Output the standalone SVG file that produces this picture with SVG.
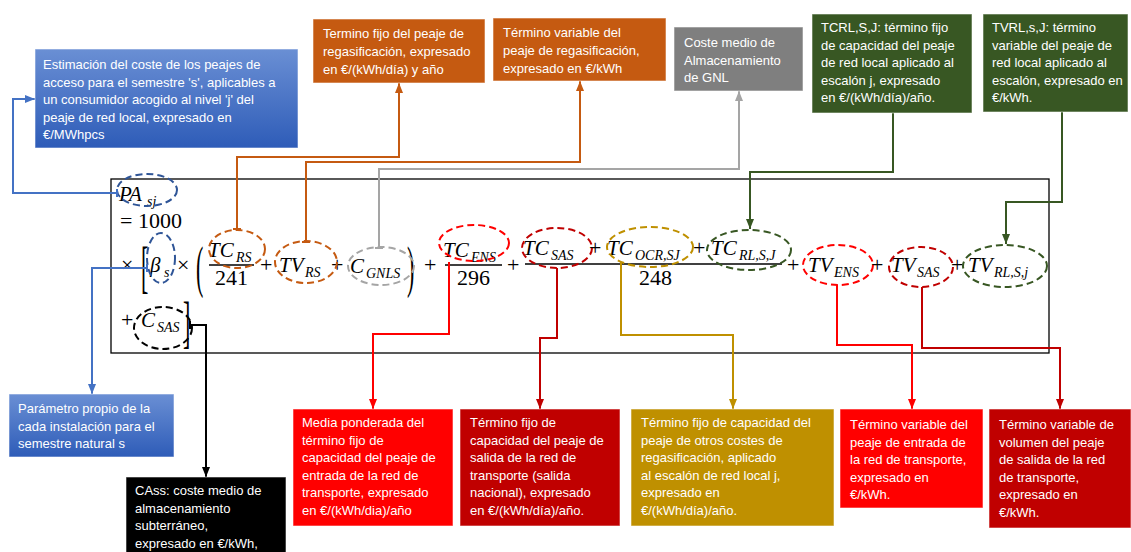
<svg xmlns="http://www.w3.org/2000/svg" width="1131" height="552" viewBox="0 0 1131 552">
<style>
.t{font-family:"Liberation Sans",Arial,sans-serif;font-size:13px;fill:#fff}
.box{stroke:#fff;stroke-opacity:0.55;stroke-width:1}
.m{font-family:"Liberation Serif","Times New Roman",serif;font-style:italic;font-size:21px;fill:#000}
.s{font-family:"Liberation Serif","Times New Roman",serif;font-style:italic;font-size:14px;fill:#000}
.n{font-family:"Liberation Serif","Times New Roman",serif;font-size:22px;fill:#000}
.e{fill:none;stroke-width:2;stroke-dasharray:7 4}
.c{fill:none;stroke-width:2}
</style>
<defs>
<linearGradient id="gb" x1="0" y1="0" x2="0" y2="1">
<stop offset="0" stop-color="#6A8FD4"/>
<stop offset="1" stop-color="#2E5CB8"/>
</linearGradient>
<marker id="aBlue" markerUnits="userSpaceOnUse" markerWidth="10" markerHeight="10" viewBox="0 0 10 10" refX="10" refY="5" orient="auto"><path d="M0,1 L10,5 L0,9 z" fill="#4472C4"/></marker>
<marker id="aOr" markerUnits="userSpaceOnUse" markerWidth="10" markerHeight="10" viewBox="0 0 10 10" refX="10" refY="5" orient="auto"><path d="M0,1 L10,5 L0,9 z" fill="#C55A11"/></marker>
<marker id="aGr" markerUnits="userSpaceOnUse" markerWidth="10" markerHeight="10" viewBox="0 0 10 10" refX="10" refY="5" orient="auto"><path d="M0,1 L10,5 L0,9 z" fill="#A5A5A5"/></marker>
<marker id="aGn" markerUnits="userSpaceOnUse" markerWidth="10" markerHeight="10" viewBox="0 0 10 10" refX="10" refY="5" orient="auto"><path d="M0,1 L10,5 L0,9 z" fill="#385723"/></marker>
<marker id="aRd" markerUnits="userSpaceOnUse" markerWidth="10" markerHeight="10" viewBox="0 0 10 10" refX="10" refY="5" orient="auto"><path d="M0,1 L10,5 L0,9 z" fill="#FF0000"/></marker>
<marker id="aDr" markerUnits="userSpaceOnUse" markerWidth="10" markerHeight="10" viewBox="0 0 10 10" refX="10" refY="5" orient="auto"><path d="M0,1 L10,5 L0,9 z" fill="#C00000"/></marker>
<marker id="aGd" markerUnits="userSpaceOnUse" markerWidth="10" markerHeight="10" viewBox="0 0 10 10" refX="10" refY="5" orient="auto"><path d="M0,1 L10,5 L0,9 z" fill="#BF9000"/></marker>
<marker id="aBk" markerUnits="userSpaceOnUse" markerWidth="10" markerHeight="10" viewBox="0 0 10 10" refX="10" refY="5" orient="auto"><path d="M0,1 L10,5 L0,9 z" fill="#000"/></marker>
<marker id="tBlue" markerUnits="userSpaceOnUse" markerWidth="4" markerHeight="10" viewBox="0 0 4 10" refX="2" refY="5" orient="auto"><rect x="1" y="1" width="2" height="8" fill="#4472C4"/></marker>
<marker id="tOr" markerUnits="userSpaceOnUse" markerWidth="4" markerHeight="10" viewBox="0 0 4 10" refX="2" refY="5" orient="auto"><rect x="1" y="1" width="2" height="8" fill="#C55A11"/></marker>
<marker id="tGr" markerUnits="userSpaceOnUse" markerWidth="4" markerHeight="10" viewBox="0 0 4 10" refX="2" refY="5" orient="auto"><rect x="1" y="1" width="2" height="8" fill="#A5A5A5"/></marker>
<marker id="tBk" markerUnits="userSpaceOnUse" markerWidth="4" markerHeight="10" viewBox="0 0 4 10" refX="2" refY="5" orient="auto"><rect x="1" y="1" width="2" height="8" fill="#000"/></marker>
</defs>
<rect width="1131" height="552" fill="#fff"/>

<g id="formula">
<rect x="111" y="179" width="938" height="174" fill="none" stroke="#000" stroke-width="1.3"/>
<text class="m" x="119" y="201">PA</text><text class="s" x="147" y="206">sj</text>
<text class="n" x="120" y="228">= 1000</text>
<text class="n" x="121" y="272">×</text>
<text class="n" transform="translate(141,286) scale(1,2.6)">[</text>
<text class="m" x="150" y="272">β</text><text class="s" x="164" y="277">s</text>
<text class="n" x="177" y="272">×</text>
<text class="n" transform="translate(196,286) scale(1,2.6)">(</text>
<text class="m" x="208" y="257">TC</text><text class="s" x="236" y="262">RS</text>
<line x1="209" y1="265" x2="254" y2="265" stroke="#000" stroke-width="1.3"/>
<text class="n" x="215" y="285">241</text>
<text class="n" x="260" y="272">+</text>
<text class="m" x="279" y="272">TV</text><text class="s" x="305" y="277">RS</text>
<text class="n" x="331" y="272">+</text>
<text class="m" x="350" y="273">C</text><text class="s" x="366" y="278">GNLS</text>
<text class="n" transform="translate(407,286) scale(1,2.6)">)</text>
<text class="n" x="424" y="272">+</text>
<text class="m" x="443" y="257">TC</text><text class="s" x="471" y="262">ENS</text>
<line x1="445" y1="265" x2="502" y2="265" stroke="#000" stroke-width="1.3"/>
<text class="n" x="457" y="285">296</text>
<text class="n" x="507" y="272">+</text>
<text class="m" x="523" y="255">TC</text><text class="s" x="551" y="260">SAS</text>
<text class="n" x="589" y="255">+</text>
<text class="m" x="607" y="255">TC</text><text class="s" x="635" y="260">OCR,SJ</text>
<text class="n" x="693" y="255">+</text>
<text class="m" x="711" y="255">TC</text><text class="s" x="739" y="260">RL,S,J</text>
<line x1="525" y1="264" x2="782" y2="264" stroke="#000" stroke-width="1.3"/>
<text class="n" x="639" y="285">248</text>
<text class="n" x="787" y="272">+</text>
<text class="m" x="808" y="272">TV</text><text class="s" x="834" y="277">ENS</text>
<text class="n" x="871" y="272">+</text>
<text class="m" x="891" y="272">TV</text><text class="s" x="917" y="277">SAS</text>
<text class="n" x="951" y="272">+</text>
<text class="m" x="968" y="272">TV</text><text class="s" x="994" y="277">RL,S,j</text>
<text class="n" x="121" y="327">+</text>
<text class="m" x="141" y="327">C</text><text class="s" x="157" y="332">SAS</text>
<text class="n" transform="translate(183,341) scale(1,2.6)">]</text>
<ellipse class="e" cx="147" cy="190" rx="30" ry="16" stroke="#2F5597"/>
<ellipse class="e" cx="161" cy="258" rx="14" ry="25" stroke="#2F5597"/>
<ellipse class="e" cx="237" cy="249" rx="28" ry="19" stroke="#C55A11"/>
<ellipse class="e" cx="306" cy="262" rx="31" ry="21" stroke="#C55A11"/>
<ellipse class="e" cx="381" cy="266" rx="33" ry="19" stroke="#A5A5A5"/>
<ellipse class="e" cx="474" cy="243" rx="35" ry="18" stroke="#FF0000"/>
<ellipse class="e" cx="557" cy="248" rx="35" ry="20" stroke="#C00000"/>
<ellipse class="e" cx="650" cy="247" rx="43" ry="20" stroke="#BF9000"/>
<ellipse class="e" cx="749" cy="250" rx="42" ry="20" stroke="#385723"/>
<ellipse class="e" cx="838" cy="265" rx="35" ry="20" stroke="#FF0000"/>
<ellipse class="e" cx="921" cy="267" rx="32" ry="20" stroke="#C00000"/>
<ellipse class="e" cx="1005" cy="266" rx="42" ry="21" stroke="#385723"/>
<ellipse class="e" cx="163" cy="328" rx="29" ry="21" stroke="#000"/>
</g>

<g id="connectors">
<path class="c" d="M117,193 H13 V99 H35" stroke="#4472C4" marker-start="url(#tBlue)" marker-end="url(#aBlue)"/>
<path class="c" d="M147,268 H92 V394" stroke="#4472C4" marker-start="url(#tBlue)" marker-end="url(#aBlue)"/>
<path class="c" d="M237,229 V157 H399 V83" stroke="#C55A11" marker-start="url(#tOr)" marker-end="url(#aOr)"/>
<path class="c" d="M306,242 V162 H580 V81" stroke="#C55A11" marker-start="url(#tOr)" marker-end="url(#aOr)"/>
<path class="c" d="M379,248 V169 H739 V91" stroke="#A5A5A5" marker-start="url(#tGr)" marker-end="url(#aGr)"/>
<path class="c" d="M893,113 V172 H750 V229" stroke="#385723" marker-end="url(#aGn)"/>
<path class="c" d="M1062,112 V202 H1006 V244" stroke="#385723" marker-end="url(#aGn)"/>
<path class="c" d="M190,325 H206 V477" stroke="#000" marker-start="url(#tBk)" marker-end="url(#aBk)"/>
<path class="c" d="M449,262 V334 H373 V409" stroke="#FF0000" marker-end="url(#aRd)"/>
<path class="c" d="M557,268 V338 H540 V409" stroke="#C00000" marker-end="url(#aDr)"/>
<path class="c" d="M621,262 V335 H733 V409" stroke="#BF9000" marker-end="url(#aGd)"/>
<path class="c" d="M837,285 V345 H912 V409" stroke="#FF0000" marker-end="url(#aRd)"/>
<path class="c" d="M922,287 V348 H1060 V409" stroke="#C00000" marker-end="url(#aDr)"/>
</g>

<g id="n-pa">
<rect class="box" x="35" y="49" width="263" height="99" fill="url(#gb)"/>
<text class="t"><tspan x="43" y="69">Estimación del coste de los peajes de</tspan><tspan x="43" y="86.5">acceso para el semestre 's', aplicables a</tspan><tspan x="43" y="104">un consumidor acogido al nivel 'j' del</tspan><tspan x="43" y="121.5">peaje de red local, expresado en</tspan><tspan x="43" y="139">€/MWhpcs</tspan></text>
</g>
<g id="n-tcrs">
<rect class="box" x="313" y="19" width="172" height="64" fill="#C55A11"/>
<text class="t"><tspan x="323" y="38">Termino fijo del peaje de</tspan><tspan x="323" y="56">regasificación, expresado</tspan><tspan x="323" y="74">en €/(kWh/día) y año</tspan></text>
</g>
<g id="n-tvrs">
<rect class="box" x="493" y="18" width="173" height="63" fill="#C55A11"/>
<text class="t"><tspan x="503" y="37">Término variable del</tspan><tspan x="503" y="55">peaje de regasificación,</tspan><tspan x="503" y="73">expresado en €/kWh</tspan></text>
</g>
<g id="n-cgnls">
<rect class="box" x="674" y="27" width="129" height="64" fill="#7F7F7F"/>
<text class="t"><tspan x="684" y="47">Coste medio de</tspan><tspan x="684" y="64.5">Almacenamiento</tspan><tspan x="684" y="82">de GNL</tspan></text>
</g>
<g id="n-tcrl">
<rect class="box" x="812" y="14" width="160" height="99" fill="#385723"/>
<text class="t"><tspan x="821" y="32">TCRL,S,J: término fijo</tspan><tspan x="821" y="49.5">de capacidad del peaje</tspan><tspan x="821" y="67">de red local aplicado al</tspan><tspan x="821" y="84.5">escalón j, expresado</tspan><tspan x="821" y="102">en €/(kWh/día)/año.</tspan></text>
</g>
<g id="n-tvrl">
<rect class="box" x="983" y="14" width="145" height="98" fill="#385723"/>
<text class="t"><tspan x="992" y="32">TVRL,s,J: término</tspan><tspan x="992" y="49.5">variable del peaje de</tspan><tspan x="992" y="67">red local aplicado al</tspan><tspan x="992" y="84.5">escalón, expresado en</tspan><tspan x="992" y="102">€/kWh.</tspan></text>
</g>
<g id="n-beta">
<rect class="box" x="9" y="394" width="165" height="63" fill="url(#gb)"/>
<text class="t"><tspan x="18" y="413">Parámetro propio de la</tspan><tspan x="18" y="430.5">cada instalación para el</tspan><tspan x="18" y="448">semestre natural s</tspan></text>
</g>
<g id="n-csas">
<rect class="box" x="126" y="477" width="160" height="80" fill="#000"/>
<text class="t"><tspan x="135" y="495">CAss: coste medio de</tspan><tspan x="135" y="512.5">almacenamiento</tspan><tspan x="135" y="530">subterráneo,</tspan><tspan x="135" y="547.5">expresado en €/kWh,</tspan></text>
</g>
<g id="n-tcens">
<rect class="box" x="293" y="409" width="160" height="117" fill="#FF0000"/>
<text class="t"><tspan x="302" y="427">Media ponderada del</tspan><tspan x="302" y="444.5">término fijo de</tspan><tspan x="302" y="462">capacidad del peaje de</tspan><tspan x="302" y="479.5">entrada de la red de</tspan><tspan x="302" y="497">transporte, expresado</tspan><tspan x="302" y="514.5">en €/(kWh/dia)/año</tspan></text>
</g>
<g id="n-tcsas">
<rect class="box" x="460" y="409" width="160" height="117" fill="#C00000"/>
<text class="t"><tspan x="470" y="427">Término fijo de</tspan><tspan x="470" y="444.5">capacidad del peaje de</tspan><tspan x="470" y="462">salida de la red de</tspan><tspan x="470" y="479.5">transporte (salida</tspan><tspan x="470" y="497">nacional), expresado</tspan><tspan x="470" y="514.5">en €/(kWh/día)/año.</tspan></text>
</g>
<g id="n-tcocr">
<rect class="box" x="631" y="409" width="203" height="117" fill="#BF9000"/>
<text class="t"><tspan x="641" y="427">Término fijo de capacidad del</tspan><tspan x="641" y="444.5">peaje de otros costes de</tspan><tspan x="641" y="462">regasificación, aplicado</tspan><tspan x="641" y="479.5">al escalón de red local j,</tspan><tspan x="641" y="497">expresado en</tspan><tspan x="641" y="514.5">€/(kWh/día)/año.</tspan></text>
</g>
<g id="n-tvens">
<rect class="box" x="840" y="409" width="143" height="99" fill="#FF0000"/>
<text class="t"><tspan x="850" y="429">Término variable del</tspan><tspan x="850" y="446.5">peaje de entrada de</tspan><tspan x="850" y="464">la red de transporte,</tspan><tspan x="850" y="481.5">expresado en</tspan><tspan x="850" y="499">€/kWh.</tspan></text>
</g>
<g id="n-tvsas">
<rect class="box" x="989" y="409" width="142" height="119" fill="#C00000"/>
<text class="t"><tspan x="999" y="429">Término variable de</tspan><tspan x="999" y="446.5">volumen del peaje</tspan><tspan x="999" y="464">de salida de la red</tspan><tspan x="999" y="481.5">de transporte,</tspan><tspan x="999" y="499">expresado en</tspan><tspan x="999" y="516.5">€/kWh.</tspan></text>
</g>
</svg>
